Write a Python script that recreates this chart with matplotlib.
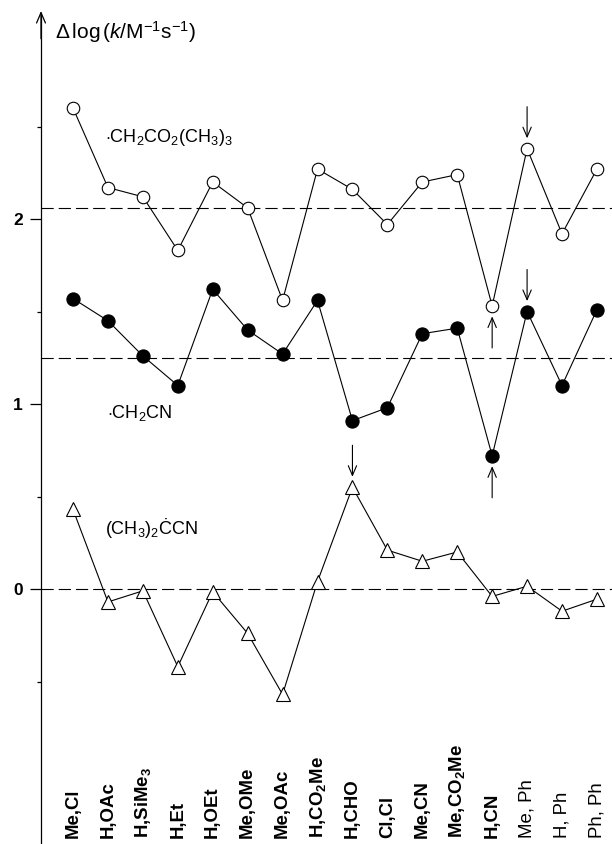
import matplotlib
matplotlib.use("Agg")
import matplotlib.pyplot as plt

plt.rcParams['font.family'] = ['Liberation Sans', 'DejaVu Sans']
plt.rcParams['mathtext.fontset'] = 'custom'
plt.rcParams['mathtext.rm'] = 'Liberation Sans'
plt.rcParams['mathtext.it'] = 'Liberation Sans:italic'
plt.rcParams['mathtext.bf'] = 'Liberation Sans:bold'

# alkene substituents (X,Y)
substituents = [r"Me,Cl", r"H,OAc", r"H,SiMe$_\mathbf{3}$", r"H,Et", r"H,OEt",
                r"Me,OMe", r"Me,OAc", r"H,CO$_\mathbf{2}$Me", r"H,CHO", r"Cl,Cl",
                r"Me,CN", r"Me,CO$_\mathbf{2}$Me", r"H,CN", r"Me, Ph", r"H, Ph", r"Ph, Ph"]
bold_label = [True] * 13 + [False] * 3

# Δlog k for each radical
ester_radical = [2.60, 2.17, 2.12, 1.83, 2.20, 2.06, 1.56, 2.27,
                 2.16, 1.97, 2.20, 2.24, 1.53, 2.38, 1.92, 2.27]
cyanomethyl = [1.57, 1.45, 1.26, 1.10, 1.62, 1.40, 1.27, 1.56,
               0.91, 0.98, 1.38, 1.41, 0.72, 1.50, 1.10, 1.51]
cyanoisopropyl = [0.43, -0.07, -0.01, -0.42, -0.015, -0.24, -0.57, 0.04,
                  0.55, 0.21, 0.15, 0.20, -0.04, 0.015, -0.12, -0.055]

# mean levels of each series
mean_levels = [2.06, 1.25, 0.0]

# highlighted points: (series, index, direction)
highlights = [("ester", 13, "down"), ("ester", 12, "up"),
              ("cyano", 13, "down"), ("cyano", 12, "up"),
              ("iso", 8, "down")]

W, H = 612, 844
fig = plt.figure(figsize=(W / 100, H / 100), dpi=100)

# pixel geometry of the plotting frame
axis_px = 41
x0_px, dx_px = 73, 34.93
y0_px, dy_px = 589, 185
ax = fig.add_axes([axis_px / W, 0, (W - axis_px) / W, 1])
ax.set_xlim((axis_px - x0_px) / dx_px, (W - x0_px) / dx_px)
ax.set_ylim((y0_px - H) / dy_px, y0_px / dy_px)

for s in ("top", "right", "bottom"):
    ax.spines[s].set_visible(False)
tip_v = (y0_px - 11) / dy_px
ax.spines["left"].set_bounds(ax.get_ylim()[0], tip_v - 0.02)
ax.spines["left"].set_linewidth(0.9)
ax.annotate("", xy=(ax.get_xlim()[0], tip_v), xytext=(ax.get_xlim()[0], tip_v - 0.15),
            arrowprops=dict(arrowstyle="->,head_length=0.75,head_width=0.32", lw=0.9,
                            color="black", shrinkA=0, shrinkB=0),
            annotation_clip=False)

ax.set_yticks([0, 1, 2])
ax.set_yticklabels(["0", "1", "2"], fontsize=12.5, fontweight="bold")
ax.set_yticks([-0.5, 0.5, 1.5, 2.5], minor=True)
ax.tick_params(axis="y", which="major", length=8, width=0.9, pad=5, direction="out")
ax.tick_params(axis="y", which="minor", length=3, width=0.9, direction="out")

idx = list(range(len(substituents)))
ax.set_xticks(idx)
ax.set_xticklabels(substituents, rotation=90, fontsize=13.4)
ax.tick_params(axis="x", length=0, pad=-4.5)
for lab, b in zip(ax.get_xticklabels(), bold_label):
    lab.set_verticalalignment("bottom")
    lab.set_fontweight("bold" if b else "normal")

for lvl in mean_levels:
    ax.axhline(lvl, color="black", lw=0.8, ls=(0, (11, 4.5)), zorder=1)

line_kw = dict(color="black", lw=0.8, zorder=2)
ax.plot(idx, ester_radical, marker="o", ms=9, mfc="white", mec="black", mew=0.8, **line_kw)
ax.plot(idx, cyanomethyl, marker="o", ms=9.5, mfc="black", mec="black", mew=0.8, **line_kw)
ax.plot(idx, cyanoisopropyl, marker="^", ms=9.5, mfc="white", mec="black", mew=0.8, **line_kw)

series = {"ester": ester_radical, "cyano": cyanomethyl, "iso": cyanoisopropyl}
for name, i, direction in highlights:
    v = series[name][i]
    sign = 1 if direction == "down" else -1
    ax.annotate("", xy=(i, v), xycoords="data",
                xytext=(0, sign * 42), textcoords="offset pixels",
                arrowprops=dict(arrowstyle="->,head_length=0.7,head_width=0.3", lw=0.8,
                                color="black", shrinkA=0, shrinkB=7.5))

# series names
ax.text(0.93, 2.44, r"$\cdot$CH$_2$CO$_2$(CH$_3$)$_3$", fontsize=13, va="center", ha="left")
ax.text(0.97, 0.95, r"$\cdot$CH$_2$CN", fontsize=13, va="center", ha="left")
ax.text(0.93, 0.33, r"(CH$_3$)$_2$ĊCN", fontsize=13, va="center", ha="left")

# axis title
fig.text(55 / W, 1 - 32 / H, r"$\mathit{\Delta}\,$log$\,$($\mathit{k}$/M$^{-1}$s$^{-1}$)",
         fontsize=15, va="center", ha="left")

fig.savefig("out.png", dpi=100)
